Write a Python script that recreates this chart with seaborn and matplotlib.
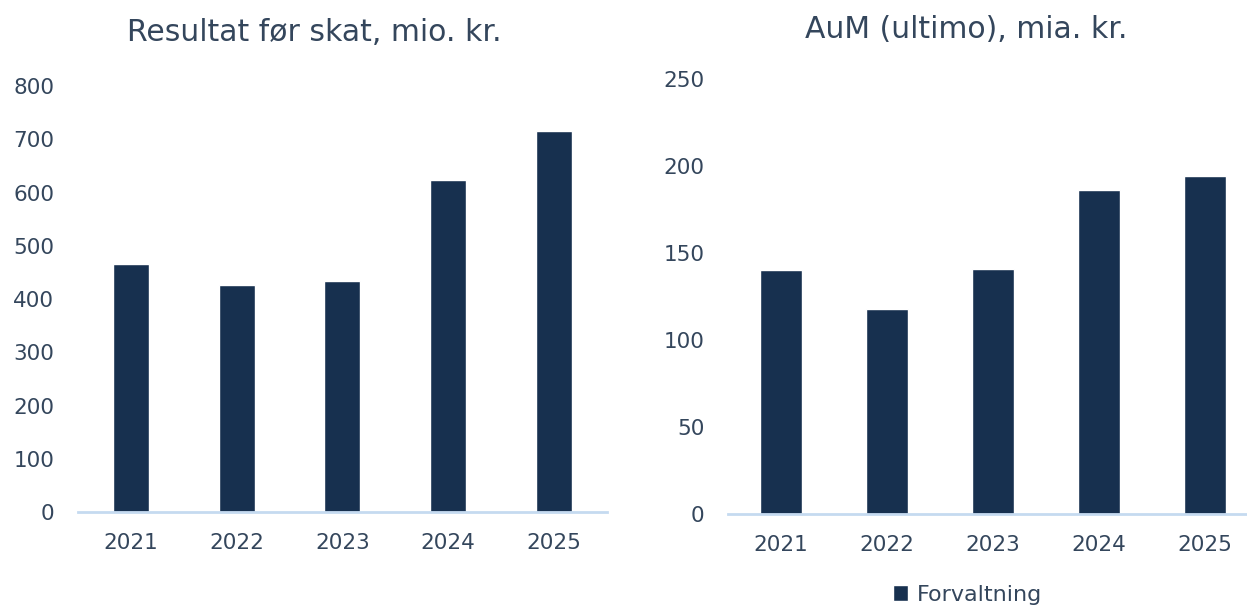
import numpy as np
import pandas as pd
import matplotlib
matplotlib.use('Agg')
import matplotlib.pyplot as plt
import seaborn as sns

# Data ------------------------------------------------------------------------

years = ['2021', '2022', '2023', '2024', '2025']
resultat = [466, 426, 434, 624, 716]     # mio. kr.
aum = [140, 118, 141, 186, 194]          # mia. kr.

bar_color = '#17304f'
text_color = '#34465c'
line_color = '#c5daf0'

sns.set_theme(style='white')
plt.rcParams['font.family'] = ['DejaVu Sans']

df_res = pd.DataFrame({'year': years, 'value': resultat})
df_aum = pd.DataFrame({'year': years, 'value': aum})

fig = plt.figure(figsize=(12.47, 6.07), dpi=100)
ax1 = fig.add_axes([0.0625, 0.1565, 0.4242, 0.7018])
ax2 = fig.add_axes([0.5838, 0.1532, 0.4250, 0.7166])

sns.barplot(data=df_res, x='year', y='value', color=bar_color, width=0.34,
            saturation=1, ax=ax1)
sns.barplot(data=df_aum, x='year', y='value', color=bar_color, width=0.40,
            saturation=1, ax=ax2, label='Forvaltning')

for ax, ymax, step in [(ax1, 800, 100), (ax2, 250, 50)]:
    ax.set_ylim(0, ymax)
    ax.set_xlim(-0.5, 4.5)
    ax.set_yticks(np.arange(0, ymax + 1, step))
    ax.set_xlabel('')
    ax.set_ylabel('')
    for s in ['top', 'right', 'left']:
        ax.spines[s].set_visible(False)
    ax.spines['bottom'].set_color(line_color)
    ax.spines['bottom'].set_linewidth(2)
    ax.tick_params(axis='y', length=0, pad=17, labelsize=15.5,
                   labelcolor=text_color)
    ax.tick_params(axis='x', length=0, pad=15, labelsize=15.5,
                   labelcolor=text_color)
    ax.set_facecolor('none')

fig.text(0.252, 0.947, 'Resultat før skat, mio. kr.', ha='center',
         va='center', fontsize=21.5, color=text_color)
fig.text(0.775, 0.951, 'AuM (ultimo), mia. kr.', ha='center',
         va='center', fontsize=21.5, color=text_color)

ax2.legend(loc='center', bbox_to_anchor=(0.776, 0.020),
           bbox_transform=fig.transFigure, frameon=False, fontsize=16,
           handlelength=0.7, handleheight=0.7, handletextpad=0.4,
           labelcolor=text_color)

fig.savefig('out.png', dpi=100)
